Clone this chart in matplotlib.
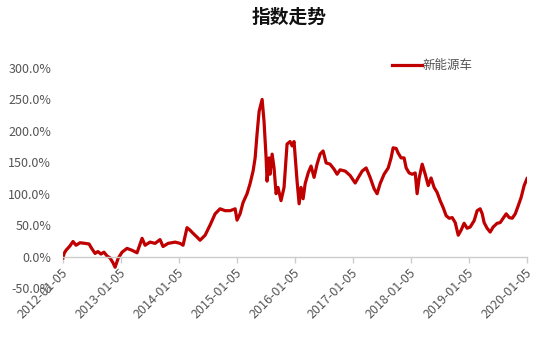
import matplotlib
matplotlib.use("Agg")
import matplotlib.pyplot as plt
import matplotlib.transforms as mtransforms
import pandas as pd

plt.rcParams['font.family'] = ['Noto Sans CJK SC', 'DejaVu Sans']

title = "指数走势"
series_name = "新能源车"

dates = [
    "2012-01-05", "2012-01-12", "2012-01-24", "2012-02-18", "2012-03-08", "2012-03-27",
    "2012-04-21", "2012-05-23", "2012-06-17", "2012-07-06", "2012-07-25", "2012-08-12",
    "2012-08-31", "2012-09-19", "2012-10-08", "2012-10-27", "2012-11-15", "2012-11-28",
    "2012-12-17", "2013-01-11", "2013-02-11", "2013-03-15", "2013-04-15", "2013-05-17",
    "2013-06-05", "2013-07-06", "2013-08-07", "2013-09-07", "2013-09-26", "2013-10-28",
    "2013-12-11", "2014-01-11", "2014-01-30", "2014-02-24", "2014-03-15", "2014-04-03",
    "2014-04-28", "2014-05-17", "2014-06-18", "2014-07-19", "2014-08-20", "2014-09-20",
    "2014-10-22", "2014-11-22", "2014-12-24", "2015-01-05", "2015-01-24", "2015-02-12",
    "2015-03-09", "2015-03-28", "2015-04-16", "2015-04-29", "2015-05-11", "2015-05-24",
    "2015-06-12", "2015-06-24", "2015-07-07", "2015-07-13", "2015-07-26", "2015-08-01",
    "2015-08-14", "2015-08-26", "2015-09-08", "2015-09-20", "2015-10-09", "2015-10-28",
    "2015-11-16", "2015-12-05", "2015-12-18", "2015-12-30", "2016-01-18", "2016-01-31",
    "2016-02-12", "2016-02-25", "2016-03-09", "2016-03-28", "2016-04-15", "2016-05-04",
    "2016-05-23", "2016-06-11", "2016-06-30", "2016-07-19", "2016-08-13", "2016-09-07",
    "2016-09-26", "2016-10-15", "2016-11-16", "2016-12-17", "2017-01-18", "2017-02-05",
    "2017-03-03", "2017-03-28", "2017-04-22", "2017-05-17", "2017-06-05", "2017-06-24",
    "2017-07-19", "2017-08-14", "2017-09-01", "2017-09-14", "2017-10-03", "2017-10-15",
    "2017-11-03", "2017-11-22", "2017-12-05", "2017-12-24", "2018-01-12", "2018-01-31",
    "2018-02-12", "2018-02-25", "2018-03-16", "2018-04-04", "2018-04-23", "2018-05-11",
    "2018-05-30", "2018-06-18", "2018-07-07", "2018-07-26", "2018-08-14", "2018-09-02",
    "2018-09-21", "2018-10-10", "2018-10-29", "2018-11-16", "2018-12-05", "2018-12-24",
    "2019-01-12", "2019-02-06", "2019-02-25", "2019-03-16", "2019-03-29", "2019-04-10",
    "2019-04-29", "2019-05-18", "2019-06-06", "2019-07-01", "2019-07-20", "2019-08-08",
    "2019-08-27", "2019-09-15", "2019-10-04", "2019-10-23", "2019-11-11", "2019-11-29",
    "2019-12-18", "2020-01-05",
]

values = [
    -2, 5, 10, 17, 24, 18,
    22, 21, 20, 12, 5, 8,
    4, 7, 1, -2, -10, -17,
    -3, 7, 13, 10, 6, 29,
    18, 23, 21, 27, 16, 21,
    23, 21, 18, 46, 42, 37,
    31, 26, 34, 50, 68, 76,
    73, 73, 76, 58, 68, 86,
    100, 116, 136, 157, 195, 231,
    250, 215, 157, 120, 157, 131,
    163, 141, 100, 110, 89, 110,
    179, 183, 176, 183, 120, 84,
    110, 92, 116, 133, 144, 126,
    147, 163, 168, 149, 147, 139,
    131, 138, 136, 129, 117, 125,
    136, 141, 126, 108, 100, 116,
    131, 141, 157, 173, 172, 165,
    157, 157, 141, 133, 131, 133,
    100, 125, 147, 131, 113, 125,
    110, 102, 89, 78, 65, 61,
    62, 54, 34, 42, 53, 45,
    47, 57, 73, 76, 68, 54,
    45, 39, 47, 53, 54, 61,
    68, 62, 61, 68, 81, 94,
    113, 124,
]

tick_dates = ["2012-01-05", "2013-01-05", "2014-01-05", "2015-01-05", "2016-01-05",
              "2017-01-05", "2018-01-05", "2019-01-05", "2020-01-05"]
y_ticks = [-50, 0, 50, 100, 150, 200, 250, 300]

W, H = 554, 363
fig = plt.figure(figsize=(W / 100, H / 100), dpi=100)
ax = fig.add_axes([63 / W, 1 - 288 / H, (527 - 63) / W, (288 - 68) / H])

x = pd.to_datetime(dates)
line, = ax.plot(x, values, color="#C00000", lw=2.3, solid_joinstyle="round",
                label=series_name)

ax.set_xlim(pd.Timestamp(tick_dates[0]), pd.Timestamp(tick_dates[-1]))
ax.set_ylim(-50, 300)

for s in ["top", "right", "left"]:
    ax.spines[s].set_visible(False)
ax.spines["bottom"].set_position(("data", 0))
ax.spines["bottom"].set_color("#cccccc")
ax.spines["bottom"].set_linewidth(1)

ax.set_yticks(y_ticks)
ax.set_yticklabels([f"{v:.1f}%" for v in y_ticks])
ax.tick_params(axis="y", length=0, pad=8.5, labelsize=9, labelcolor="#555555")

xt = pd.to_datetime(tick_dates)
ax.set_xticks(xt)
ax.set_xticklabels(tick_dates)
ax.tick_params(axis="x", length=4, width=1, color="#cccccc", pad=6,
               labelsize=9, labelcolor="#555555")
offset = mtransforms.ScaledTranslation(3 / 100, 0, fig.dpi_scale_trans)
for lab in ax.get_xticklabels():
    lab.set_rotation(45)
    lab.set_ha("right")
    lab.set_va("center")
    lab.set_rotation_mode("anchor")
    lab.set_transform(lab.get_transform() + offset)

fig.text(289 / W, 1 - 17 / H, title, ha="center", va="center",
         fontsize=13.5, fontweight="bold", color="#111111")

fig.legend(handles=[line], labels=[series_name], loc="center left",
           bbox_to_anchor=(386 / W, 1 - 66 / H), frameon=False,
           handlelength=2.4, handletextpad=0.05, fontsize=9,
           labelcolor="#555555", borderpad=0)

fig.savefig("out.png", dpi=100)
